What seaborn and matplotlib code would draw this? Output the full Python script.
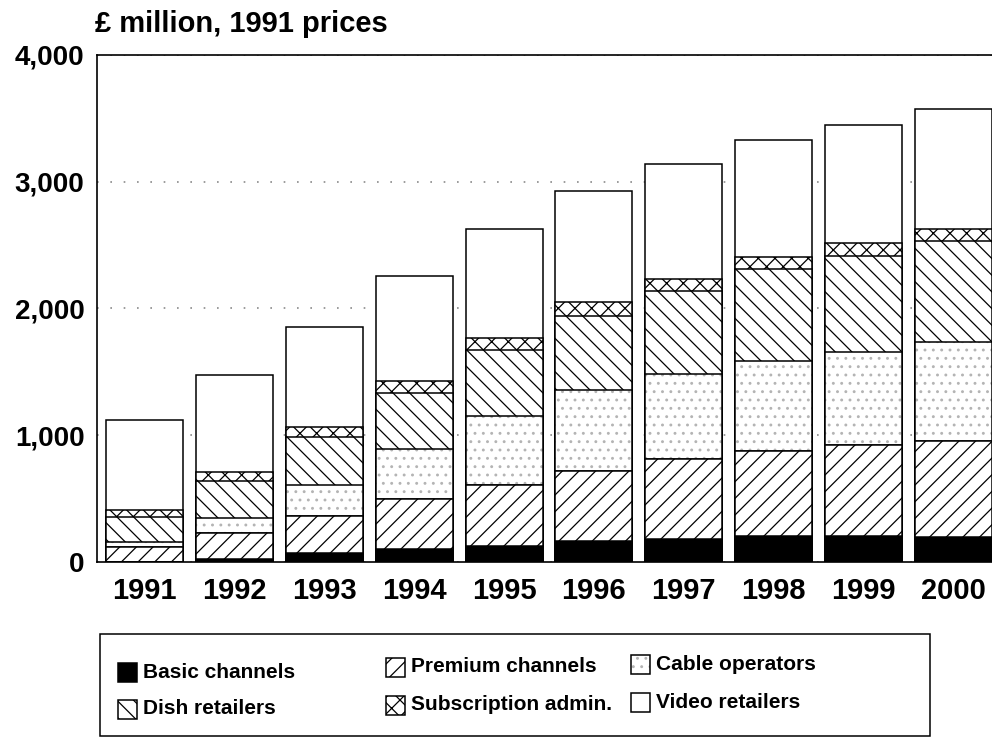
import matplotlib
matplotlib.use("Agg")
import matplotlib.pyplot as plt
import matplotlib.patches as mpatches
import numpy as np
import pandas as pd
import seaborn as sns

# 値（£ million, 1991 prices）
years = ["1991", "1992", "1993", "1994", "1995", "1996", "1997", "1998", "1999", "2000"]
basic = [0, 25, 70, 100, 125, 165, 180, 205, 205, 200]
premium = [118, 205, 290, 395, 480, 550, 630, 670, 715, 755]
cable = [39, 118, 245, 400, 545, 640, 670, 710, 740, 780]
dish = [197, 290, 380, 440, 520, 585, 660, 730, 755, 795]
subscription = [55, 70, 80, 95, 95, 110, 95, 95, 100, 95]
video = [715, 765, 785, 825, 860, 880, 905, 920, 935, 950]

y_ticks = [0, 1000, 2000, 3000, 4000]
y_labels = ["0", "1,000", "2,000", "3,000", "4,000"]

sns.set_style("white")
plt.rcParams["font.family"] = ["Liberation Sans", "DejaVu Sans"]
plt.rcParams["text.color"] = "black"
plt.rcParams["xtick.color"] = "black"
plt.rcParams["ytick.color"] = "black"
plt.rcParams["hatch.linewidth"] = 0.9

# 下から順のレイヤー: (名前, 値, 塗り, ハッチ)
layers = [
    ("Basic channels", basic, "black", None),
    ("Premium channels", premium, "white", "//"),
    ("Cable operators", cable, "white", ".."),
    ("Dish retailers", dish, "white", "\\\\"),
    ("Subscription admin.", subscription, "white", "xx"),
    ("Video retailers", video, "white", None),
]
DOT_COLOR = "#b4b4b4"

df = pd.DataFrame({"year": years})
running = np.zeros(len(years))
for name, vals, _, _ in layers:
    running = running + np.array(vals, dtype=float)
    df[name] = running.copy()

fig = plt.figure(figsize=(9.92, 7.38), dpi=100)
ax = fig.add_axes([0.0978, 0.2385, 0.9022, 0.687])


def draw_layer(name, face, hatch, edge="black", lw=1.1, fill=True):
    n0 = len(ax.patches)
    sns.barplot(data=df, x="year", y=name, ax=ax, color=face, saturation=1,
                edgecolor=edge, linewidth=lw, width=0.857, errorbar=None, fill=fill)
    for p in ax.patches[n0:]:
        if hatch:
            p.set_hatch(hatch)
        if fill:
            p.set_facecolor(face)


# 累積値の大きい順に重ねて描く
for name, vals, face, hatch in reversed(layers):
    if hatch == "..":
        draw_layer(name, face, hatch, edge=DOT_COLOR, lw=0)
    else:
        draw_layer(name, face, hatch)

# ケーブル層の輪郭線と、その上に premium / basic を戻す
draw_layer("Cable operators", "white", None, fill=False)
draw_layer("Premium channels", "white", "//")
draw_layer("Basic channels", "black", None)

ax.set_xlim(-0.53, 9.43)
ax.set_ylim(0, 4000)
ax.set_yticks(y_ticks)
ax.set_yticklabels(y_labels, fontsize=20, fontweight="bold")
ax.set_xticks(range(len(years)))
ax.set_xticklabels(years, fontsize=21, fontweight="bold")
ax.tick_params(axis="both", length=0)
ax.tick_params(axis="y", pad=9)
ax.tick_params(axis="x", pad=11)
ax.set_xlabel("")
ax.set_ylabel("")

ax.set_axisbelow(True)
ax.yaxis.grid(True, linestyle=(0, (1, 7)), color="#8a8a8a", linewidth=1.2)
for s in ["left", "top", "bottom"]:
    ax.spines[s].set_color("black")
    ax.spines[s].set_linewidth(1.2)
ax.spines["right"].set_visible(False)

fig.text(0.096, 0.968, "£ million, 1991 prices", fontsize=21, fontweight="bold",
         ha="left", va="center")

# 凡例（枠と項目を図座標で配置）
W, H = 992.0, 738.0
fig.patches.append(mpatches.Rectangle((100 / W, 1 - 736 / H), 830 / W, 102 / H,
                                      transform=fig.transFigure, fill=False,
                                      edgecolor="black", linewidth=1.1))
legend_pos = {
    "Basic channels": (118, 672),
    "Dish retailers": (118, 709),
    "Premium channels": (386, 667),
    "Subscription admin.": (386, 705),
    "Cable operators": (631, 664),
    "Video retailers": (631, 702),
}
sq = 19
for name, vals, face, hatch in layers:
    px, py = legend_pos[name]
    xy = (px / W, 1 - (py + sq / 2) / H)
    if hatch == "..":
        fig.patches.append(mpatches.Rectangle(xy, sq / W, sq / H, transform=fig.transFigure,
                                              facecolor=face, edgecolor=DOT_COLOR,
                                              linewidth=0, hatch=hatch))
        fig.patches.append(mpatches.Rectangle(xy, sq / W, sq / H, transform=fig.transFigure,
                                              fill=False, edgecolor="black", linewidth=1.1))
    else:
        fig.patches.append(mpatches.Rectangle(xy, sq / W, sq / H, transform=fig.transFigure,
                                              facecolor=face, edgecolor="black",
                                              linewidth=1.1, hatch=hatch))
    fig.text((px + sq + 6) / W, 1 - py / H, name, fontsize=15, fontweight="bold",
             ha="left", va="center")

fig.savefig("out.png", dpi=100)
